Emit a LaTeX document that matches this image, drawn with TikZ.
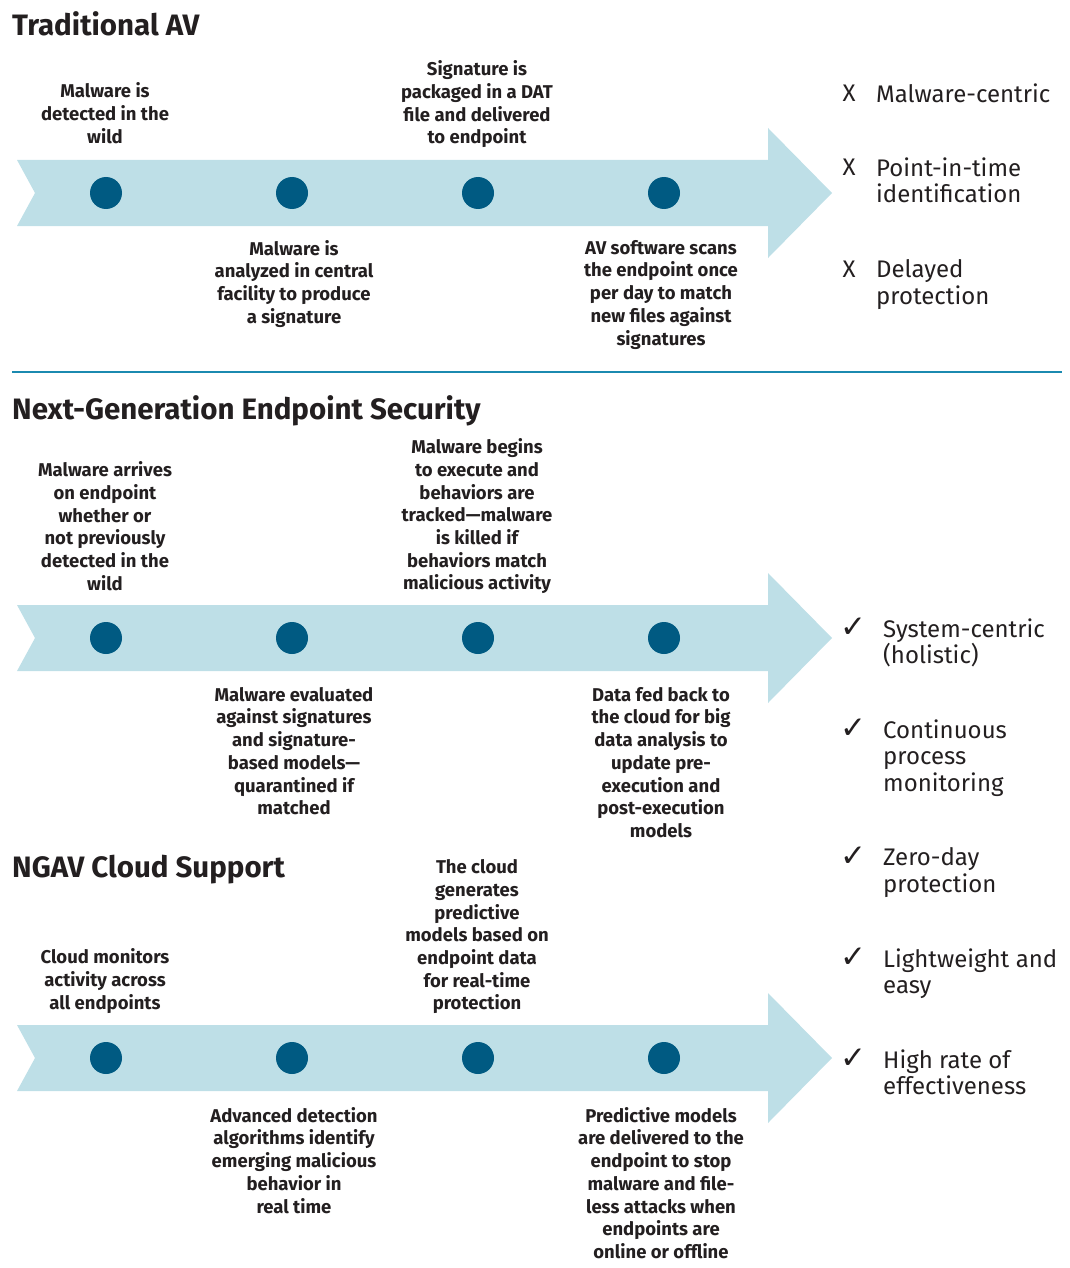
\documentclass[tikz,border=0pt]{standalone}
\usepackage{fontspec}
\setmainfont{Fira Sans}
\newfontfamily\dejavu{DejaVu Sans}
\definecolor{bandc}{HTML}{BEDFE7}
\definecolor{dotc}{HTML}{005A82}
\definecolor{txt}{HTML}{231F20}
\definecolor{sepc}{HTML}{1B8AB0}
\tikzset{
  bandshape/.style={fill=bandc, draw=none},
  dotn/.style={circle, fill=dotc, draw=none, minimum size=32pt, inner sep=0pt},
  lbl/.style={font=\bfseries\fontsize{18.5}{22.7}\selectfont, align=center, inner sep=0pt, anchor=north, text=txt},
  ttl/.style={font=\bfseries\fontsize{29.5}{33}\selectfont, inner sep=0pt, anchor=base west, text=txt},
  rtx/.style={font=\fontsize{24}{26.5}\selectfont, align=left, inner sep=0pt, anchor=north west, text=txt},
  mk/.style={font=\fontsize{24}{26.5}\selectfont, inner sep=0pt, anchor=center, text=txt},
  ck/.style={font=\dejavu\fontsize{31}{32}\selectfont, inner sep=0pt, anchor=center, text=txt},
  sepline/.style={draw=sepc, line width=2.5pt}
}
\begin{document}
\begin{tikzpicture}[x=1pt, y=-1pt]
\useasboundingbox (0,0) rectangle (1070,1268);
% bands and dots
\foreach \r/\c in {a/193, b/638, c/1058}{
  \fill[bandshape] (17,\c-33) -- (768,\c-33) -- (768,\c-65) -- (832,\c) -- (768,\c+65) -- (768,\c+33) -- (17,\c+33) -- (35,\c) -- cycle;
  \foreach \i/\x in {1/106, 2/292, 3/478, 4/664}
    \node[dotn] (\r\i) at (\x,\c) {};
}
% titles
\node[ttl] (t1) at (12,36) {Traditional AV};
\node[ttl] (t2) at (12,419) {Next-Generation Endpoint Security};
\node[ttl] (t3) at (12,877) {NGAV Cloud Support};
% separator
\coordinate (s1) at (12,372);
\coordinate (s2) at (1062,372);
\draw[sepline] (s1) -- (s2);
% band 1 labels
\node[lbl] (la1) at (105,82.5) {Malware is\\detected in the\\wild};
\node[lbl] (la3) at (477,60.5) {Signature is\\packaged in a DAT\\file and delivered\\to endpoint};
\node[lbl] (la2) at (294,240) {Malware is\\analyzed in central\\facility to produce\\a signature};
\node[lbl] (la4) at (661,240) {AV software scans\\the endpoint once\\per day to match\\new files against\\signatures};
% band 2 labels
\node[lbl] (lb1) at (105,461.5) {Malware arrives\\on endpoint\\whether or\\not previously\\detected in the\\wild};
\node[lbl] (lb3) at (477,438.5) {Malware begins\\to execute and\\behaviors are\\tracked\textemdash malware\\is killed if\\behaviors match\\malicious activity};
\node[lbl] (lb2) at (294,687) {Malware evaluated\\against signatures\\and signature-\\based models\textemdash\\quarantined if\\matched};
\node[lbl] (lb4) at (661,687) {Data fed back to\\the cloud for big\\data analysis to\\update pre-\\execution and\\post-execution\\models};
% band 3 labels
\node[lbl] (lc1) at (105,948.5) {Cloud monitors\\activity across\\all endpoints};
\node[lbl] (lc3) at (477,859.5) {The cloud\\generates\\predictive\\models based on\\endpoint data\\for real-time\\protection};
\node[lbl] (lc2) at (294,1107) {Advanced detection\\algorithms identify\\emerging malicious\\behavior in\\real time};
\node[lbl] (lc4) at (661,1107) {Predictive models\\are delivered to the\\endpoint to stop\\malware and file-\\less attacks when\\endpoints are\\online or offline};
% right column, traditional
\node[mk] (x1) at (849,93.5) {X};
\node[rtx] (r1) at (876,83.5) {Malware-centric};
\node[mk] (x2) at (849,167.5) {X};
\node[rtx] (r2) at (876,157.5) {Point-in-time\\identification};
\node[mk] (x3) at (849,269.5) {X};
\node[rtx] (r3) at (876,259.5) {Delayed\\protection};
% right column, NGES
\node[ck] (k1) at (853,628) {✓};
\node[rtx] (q1) at (883,618.5) {System-centric\\(holistic)};
\node[ck] (k2) at (853,729) {✓};
\node[rtx] (q2) at (883,719.5) {Continuous\\process\\monitoring};
\node[ck] (k3) at (853,857) {✓};
\node[rtx] (q3) at (883,847.5) {Zero-day\\protection};
\node[ck] (k4) at (853,958) {✓};
\node[rtx] (q4) at (883,948.5) {Lightweight and\\easy};
\node[ck] (k5) at (853,1059) {✓};
\node[rtx] (q5) at (883,1049.5) {High rate of\\effectiveness};
\end{tikzpicture}
\end{document}
